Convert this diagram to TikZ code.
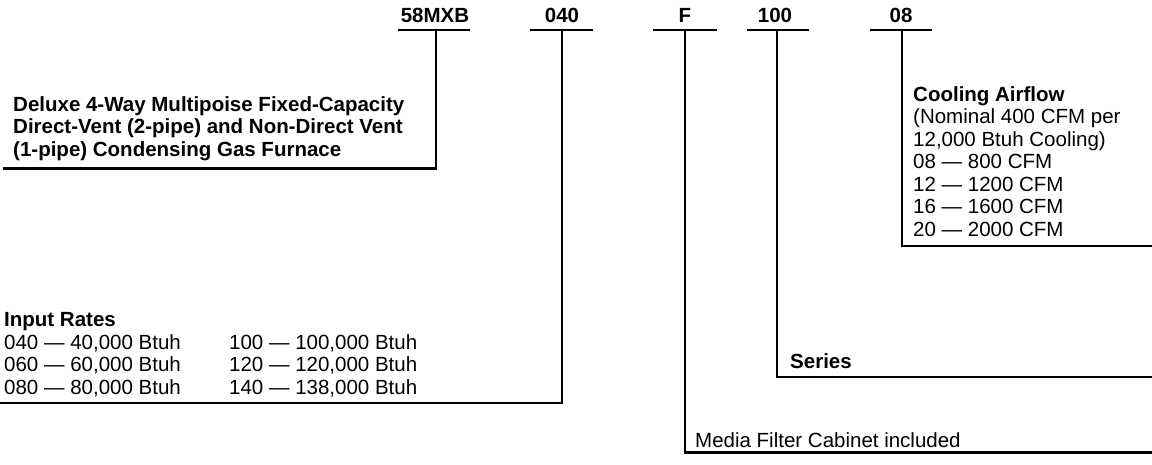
\documentclass[tikz,border=0pt]{standalone}
\usepackage{fontspec}
\setmainfont{Liberation Sans}
\begin{document}
\begin{tikzpicture}[x=1pt,y=-1pt,
  txt/.style={font=\fontsize{20.5}{22.5}\selectfont, inner sep=0pt, anchor=base west},
  btxt/.style={font=\fontsize{20.5}{22.5}\selectfont\bfseries, inner sep=0pt, anchor=base west},
  code/.style={font=\fontsize{20.5}{22.5}\selectfont\bfseries, inner sep=0pt, anchor=base},
  lead/.style={line width=2.5pt, black}]
\useasboundingbox (0,0) rectangle (1152,464);

% code labels
\node[code] (c1) at (435,22) {58MXB};
\node[code] (c2) at (562,22) {040};
\node[code] (c3) at (685,22) {F};
\node[code] (c4) at (775,22) {100};
\node[code] (c5) at (901,22) {08};

% underlines
\coordinate (u1l) at (398,30); \coordinate (u1r) at (470,30); \coordinate (u1) at (436,30);
\coordinate (u2l) at (530,30); \coordinate (u2r) at (593,30); \coordinate (u2) at (562,30);
\coordinate (u3l) at (653,30); \coordinate (u3r) at (717,30); \coordinate (u3) at (685,30);
\coordinate (u4l) at (747,30); \coordinate (u4r) at (809,30); \coordinate (u4) at (777,30);
\coordinate (u5l) at (870,30); \coordinate (u5r) at (932,30); \coordinate (u5) at (902,30);
\draw[lead] (u1l) -- (u1r);
\draw[lead] (u2l) -- (u2r);
\draw[lead] (u3l) -- (u3r);
\draw[lead] (u4l) -- (u4r);
\draw[lead] (u5l) -- (u5r);

% leader ends
\coordinate (e1) at (3,168.5);
\coordinate (e2) at (0,403);
\coordinate (e3) at (1152,452.5);
\coordinate (e4) at (1152,377);
\coordinate (e5) at (1152,246);
\draw[lead] (u1) |- (e1);
\draw[lead] (u2) |- (e2);
\draw[lead] (u3) |- (e3);
\draw[lead] (u4) |- (e4);
\draw[lead] (u5) |- (e5);

% description
\node[btxt] (d1) at (13,111) {Deluxe 4-Way Multipoise Fixed-Capacity};
\node[btxt] (d2) at (13,133.5) {Direct-Vent (2-pipe) and Non-Direct Vent};
\node[btxt] (d3) at (13,156) {(1-pipe) Condensing Gas Furnace};

% input rates
\node[btxt] (i0) at (4,326.5) {Input Rates};
\node[txt] (i1) at (4,349) {040 — 40,000 Btuh};
\node[txt] (i2) at (4,371.5) {060 — 60,000 Btuh};
\node[txt] (i3) at (4,394) {080 — 80,000 Btuh};
\node[txt] (i4) at (229,349) {100 — 100,000 Btuh};
\node[txt] (i5) at (229,371.5) {120 — 120,000 Btuh};
\node[txt] (i6) at (229,394) {140 — 138,000 Btuh};

% cooling airflow
\node[btxt] (a0) at (913,101) {Cooling Airflow};
\node[txt] (a1) at (913,123.5) {(Nominal 400 CFM per};
\node[txt] (a2) at (913,146) {12,000 Btuh Cooling)};
\node[txt] (a3) at (913,168.5) {08 — 800 CFM};
\node[txt] (a4) at (913,191) {12 — 1200 CFM};
\node[txt] (a5) at (913,213.5) {16 — 1600 CFM};
\node[txt] (a6) at (913,236) {20 — 2000 CFM};

% series and filter
\node[btxt] (s0) at (790,368) {Series};
\node[txt] (m0) at (695,447) {Media Filter Cabinet included};
\end{tikzpicture}
\end{document}
